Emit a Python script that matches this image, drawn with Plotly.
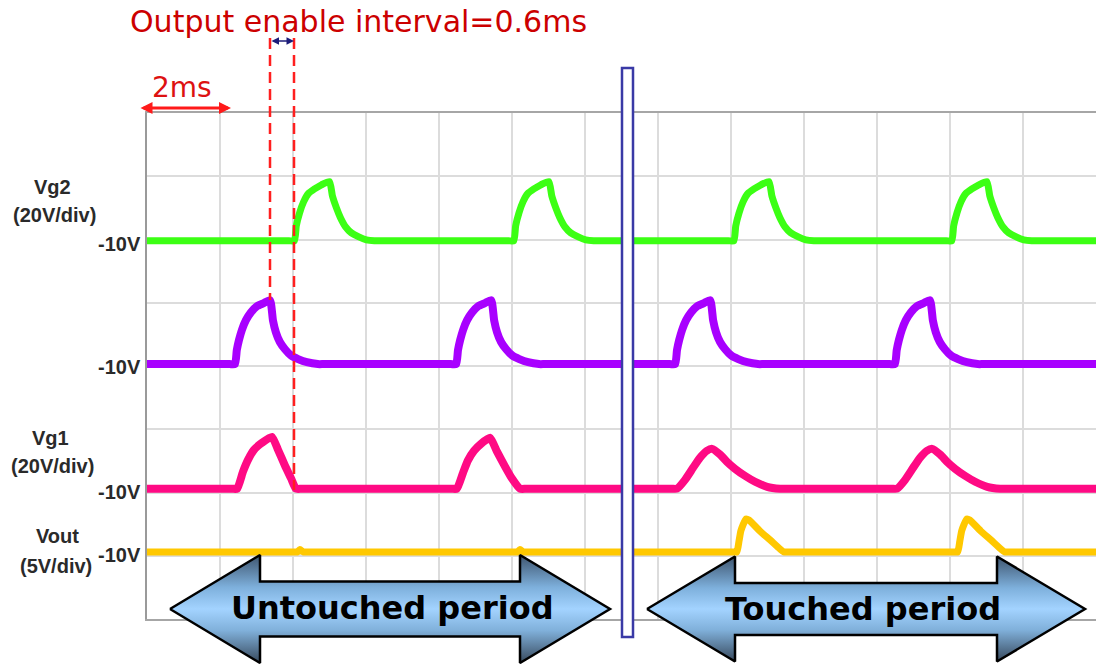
import plotly.graph_objects as go

W, H = 1096, 668

# ---------------- data (time in ms, values in volts) ----------------
x_range = [0, 26]          # 13 divisions x 2 ms/div
y_range = [0, 8]           # 8 vertical divisions

vg2_t = [0, 3.89,
         4.04, 4.09, 4.18, 4.29, 4.42, 4.59, 4.78, 5.00, 5.08, 5.19, 5.30, 5.44, 5.60, 5.79, 6.01, 6.23,
         6.40, 9.90,
         10.05, 10.10, 10.19, 10.30, 10.43, 10.60, 10.79, 11.01, 11.09, 11.20, 11.31, 11.45, 11.61, 11.80, 12.02, 12.24,
         12.40, 15.93,
         16.08, 16.13, 16.22, 16.33, 16.46, 16.63, 16.82, 17.04, 17.12, 17.23, 17.34, 17.48, 17.64, 17.83, 18.05, 18.27,
         18.45, 21.90,
         22.05, 22.10, 22.19, 22.30, 22.43, 22.60, 22.79, 23.01, 23.09, 23.20, 23.31, 23.45, 23.61, 23.80, 24.02, 24.24,
         24.40, 26]
vg2_v = [-10, -10,
         -10, -5.3, -1.2, 2.3, 4.9, 6.4, 7.7, 8.7, 4.2, 0.4, -2.7, -5.6, -7.5, -8.7, -9.7, -10,
         -10, -10,
         -10, -5.3, -1.2, 2.3, 4.9, 6.4, 7.7, 8.7, 4.2, 0.4, -2.7, -5.6, -7.5, -8.7, -9.7, -10,
         -10, -10,
         -10, -5.3, -1.2, 2.3, 4.9, 6.4, 7.7, 8.7, 4.2, 0.4, -2.7, -5.6, -7.5, -8.7, -9.7, -10,
         -10, -10,
         -10, -5.3, -1.2, 2.3, 4.9, 6.4, 7.7, 8.7, 4.2, 0.4, -2.7, -5.6, -7.5, -8.7, -9.7, -10,
         -10, -10]

mid_t = [0, 2.26,
         2.41, 2.46, 2.52, 2.60, 2.71, 2.85, 3.01, 3.20, 3.37, 3.45, 3.53, 3.64, 3.78, 3.94, 4.14, 4.38, 4.68,
         4.85, 8.32,
         8.47, 8.52, 8.58, 8.66, 8.77, 8.91, 9.07, 9.26, 9.43, 9.51, 9.59, 9.70, 9.84, 10.00, 10.20, 10.44, 10.74,
         10.90, 14.32,
         14.47, 14.52, 14.58, 14.66, 14.77, 14.91, 15.07, 15.26, 15.43, 15.51, 15.59, 15.70, 15.84, 16.00, 16.20, 16.44, 16.74,
         16.90, 20.34,
         20.49, 20.54, 20.60, 20.68, 20.79, 20.93, 21.09, 21.28, 21.45, 21.53, 21.61, 21.72, 21.86, 22.02, 22.22, 22.46, 22.76,
         22.92, 26]
mid_v = [-10, -10,
         -10, -5.6, -2.4, 0.8, 3.9, 6.4, 8.3, 9.3, 10.2, 3.9, 0.1, -3.0, -5.3, -7.2, -8.4, -9.4, -10,
         -10, -10,
         -10, -5.6, -2.4, 0.8, 3.9, 6.4, 8.3, 9.3, 10.2, 3.9, 0.1, -3.0, -5.3, -7.2, -8.4, -9.4, -10,
         -10, -10,
         -10, -5.6, -2.4, 0.8, 3.9, 6.4, 8.3, 9.3, 10.2, 3.9, 0.1, -3.0, -5.3, -7.2, -8.4, -9.4, -10,
         -10, -10,
         -10, -5.6, -2.4, 0.8, 3.9, 6.4, 8.3, 9.3, 10.2, 3.9, 0.1, -3.0, -5.3, -7.2, -8.4, -9.4, -10,
         -10, -10]

vg1_t = [0, 2.32,
         2.47, 2.63, 2.77, 2.93, 3.15, 3.42, 3.59, 3.78, 3.95, 4.08,
         4.25, 8.34,
         8.49, 8.66, 8.79, 8.96, 9.15, 9.40, 9.59, 9.81, 10.00, 10.22,
         10.40, 14.37,
         14.52, 14.74, 14.96, 15.15, 15.34, 15.48, 15.70, 15.89, 16.11, 16.38, 16.66, 16.99, 17.34,
         17.50, 20.40,
         20.55, 20.77, 20.99, 21.18, 21.37, 21.51, 21.73, 21.92, 22.14, 22.41, 22.69, 23.02, 23.37,
         23.55, 26]
vg1_v = [-10, -10,
         -10, -4.6, -0.8, 2.3, 4.5, 6.4, 2.3, -2.7, -6.8, -10,
         -10, -10,
         -10, -4.9, -1.1, 2.0, 4.2, 6.1, 1.7, -3.0, -6.8, -10,
         -10, -10,
         -10, -7.2, -3.4, -0.2, 2.0, 2.6, 0.8, -1.5, -3.7, -5.9, -7.8, -9.4, -10,
         -10, -10,
         -10, -7.2, -3.4, -0.2, 2.0, 2.6, 0.8, -1.5, -3.7, -5.9, -7.8, -9.4, -10,
         -10, -10]

vout_t = [0, 4.00,
          4.12, 4.19, 4.28,
          4.40, 10.03,
          10.15, 10.22, 10.31,
          10.43, 16.04,
          16.16, 16.22, 16.27, 16.33, 16.41, 16.49, 16.79, 17.07, 17.34, 17.45,
          17.60, 22.09,
          22.21, 22.27, 22.32, 22.38, 22.46, 22.54, 22.84, 23.12, 23.39, 23.50,
          23.65, 26]
vout_v = [-10, -10,
          -10, -9.8, -10,
          -10, -10,
          -10, -9.8, -10,
          -10, -10,
          -10, -9.13, -8.34, -7.86, -7.39, -7.47, -8.34, -9.05, -9.76, -10,
          -10, -10,
          -10, -9.13, -8.34, -7.86, -7.39, -7.47, -8.34, -9.05, -9.76, -10,
          -10, -10]

channel_names = ["Vg2", "Vg (mid)", "Vg1", "Vout"]
channel_times = [vg2_t, mid_t, vg1_t, vout_t]
channel_values = [vg2_v, mid_v, vg1_v, vout_v]
channel_colors = ["#3cff14", "#a800ff", "#ff0a84", "#ffc800"]
channel_widths = [7, 8, 8, 7]
volts_per_div = [20, 20, 20, 5]
ref_level_v = -10
ref_level_div = [5.98, 4.03, 2.06, 1.06]   # screen position of the -10V marker

# ---------------- figure ----------------
fig = go.Figure()

for name, t, v, col, lw, vpd, base in zip(channel_names, channel_times, channel_values,
                                          channel_colors, channel_widths, volts_per_div,
                                          ref_level_div):
    y = [base + (val - ref_level_v) / vpd for val in v]
    fig.add_trace(go.Scatter(x=t, y=y, mode="lines", name=name,
                             line=dict(color=col, width=lw, shape="spline", smoothing=0.5),
                             hoverinfo="skip", xaxis="x", yaxis="y"))

# overlay canvas (pixel units) for annotation graphics
def arrow_poly(x0, x1, xh0, xh1, yc, head_half, shaft_half):
    xs = [x0, xh0, xh0, xh1, xh1, x1, xh1, xh1, xh0, xh0, x0]
    ys = [yc, yc - head_half, yc - shaft_half, yc - shaft_half, yc - head_half, yc,
          yc + head_half, yc + shaft_half, yc + shaft_half, yc + head_half, yc]
    return xs, ys

grad = [[0.0, "#3e556f"], [0.3, "#7eb0dc"], [0.5, "#a3d3ff"], [0.7, "#80b0da"], [1.0, "#37495d"]]
for (x0, x1, xh0, xh1, yc, hh, sh) in [(170, 610, 260, 520, 609, 54, 27.5),
                                       (647, 1085, 735, 997, 609, 52.5, 26)]:
    xs, ys = arrow_poly(x0, x1, xh0, xh1, yc, hh, sh)
    fig.add_trace(go.Scatter(x=xs, y=ys, mode="lines", fill="toself",
                             fillgradient=dict(type="vertical", colorscale=grad,
                                               start=yc - hh, stop=yc + hh),
                             line=dict(color="black", width=2.5),
                             xaxis="x2", yaxis="y2", hoverinfo="skip", showlegend=False))

fig.update_layout(
    width=W, height=H,
    margin=dict(l=0, r=0, t=0, b=0),
    paper_bgcolor="white", plot_bgcolor="rgba(0,0,0,0)",
    showlegend=False,
    xaxis=dict(domain=[147 / W, 1], range=x_range, dtick=2, tick0=0,
               showgrid=True, gridcolor="#dcdcdc", gridwidth=1.5,
               showticklabels=False, ticks="", zeroline=False,
               showline=True, linecolor="#a6a6a6", linewidth=2, mirror=True),
    yaxis=dict(domain=[49 / H, 555 / H], range=y_range, dtick=1, tick0=0,
               showgrid=True, gridcolor="#dcdcdc", gridwidth=1.5,
               showticklabels=False, ticks="", zeroline=False,
               showline=True, linecolor="#9a9a9a", linewidth=2, mirror=False),
    xaxis2=dict(domain=[0, 1], range=[0, W], visible=False, anchor="y2"),
    yaxis2=dict(domain=[0, 1], range=[H, 0], visible=False, anchor="x2"),
)

# shapes: dashed markers and divider
red_dash = dict(color="#ff1f1f", width=2.5, dash="11px,6px")
fig.add_shape(type="line", xref="x2", yref="y2", x0=270, x1=270, y0=38, y1=300,
              line=red_dash, layer="above")
fig.add_shape(type="line", xref="x2", yref="y2", x0=294, x1=294, y0=38, y1=490,
              line=red_dash, layer="above")
fig.add_shape(type="rect", xref="x2", yref="y2", x0=622, x1=633, y0=68, y1=637,
              line=dict(color="#3a3aa6", width=2.5), fillcolor="white", layer="above")

# arrows
fig.add_annotation(xref="x2", yref="y2", axref="x2", ayref="y2",
                   x=231, y=108, ax=139, ay=108, text="", showarrow=True,
                   arrowside="end+start", arrowhead=2, arrowsize=0.8, arrowwidth=3,
                   arrowcolor="#ff1a1a", standoff=0, startstandoff=0)
fig.add_annotation(xref="x2", yref="y2", axref="x2", ayref="y2",
                   x=294, y=41, ax=270, ay=41, text="", showarrow=True,
                   arrowside="end+start", arrowhead=2, arrowsize=1, arrowwidth=1.5,
                   arrowcolor="#1c1c7a", standoff=0, startstandoff=0)

# texts
fig.add_annotation(xref="x2", yref="y2", x=358, y=21, text="Output enable interval=0.6ms",
                   showarrow=False, font=dict(family="DejaVu Sans", size=30, color="#cc0000"))
fig.add_annotation(xref="x2", yref="y2", x=182, y=87, text="2ms",
                   showarrow=False, font=dict(family="DejaVu Sans", size=28, color="#dd1111"))

lab_font = dict(family="Liberation Sans", size=20, color="#2a2a2a")
for txt, x, y in [("Vg2", 52, 187), ("(20V/div)", 54, 215),
                  ("Vg1", 50, 438), ("(20V/div)", 52, 466),
                  ("Vout", 57, 536), ("(5V/div)", 56, 566)]:
    fig.add_annotation(xref="x2", yref="y2", x=x, y=y, text="<b>" + txt + "</b>",
                       showarrow=False, font=lab_font)
for base in ref_level_div:
    fig.add_annotation(xref="paper", yref="y", x=143 / W, y=base, yshift=-3,
                       xanchor="right", text="<b>%dV</b>" % ref_level_v,
                       showarrow=False, font=lab_font)

big_font = dict(family="DejaVu Sans", size=32, color="black")
fig.add_annotation(xref="x2", yref="y2", x=392, y=608, text="<b>Untouched period</b>",
                   showarrow=False, font=big_font)
fig.add_annotation(xref="x2", yref="y2", x=863, y=609, text="<b>Touched period</b>",
                   showarrow=False, font=big_font)

fig.write_html("out.html")
